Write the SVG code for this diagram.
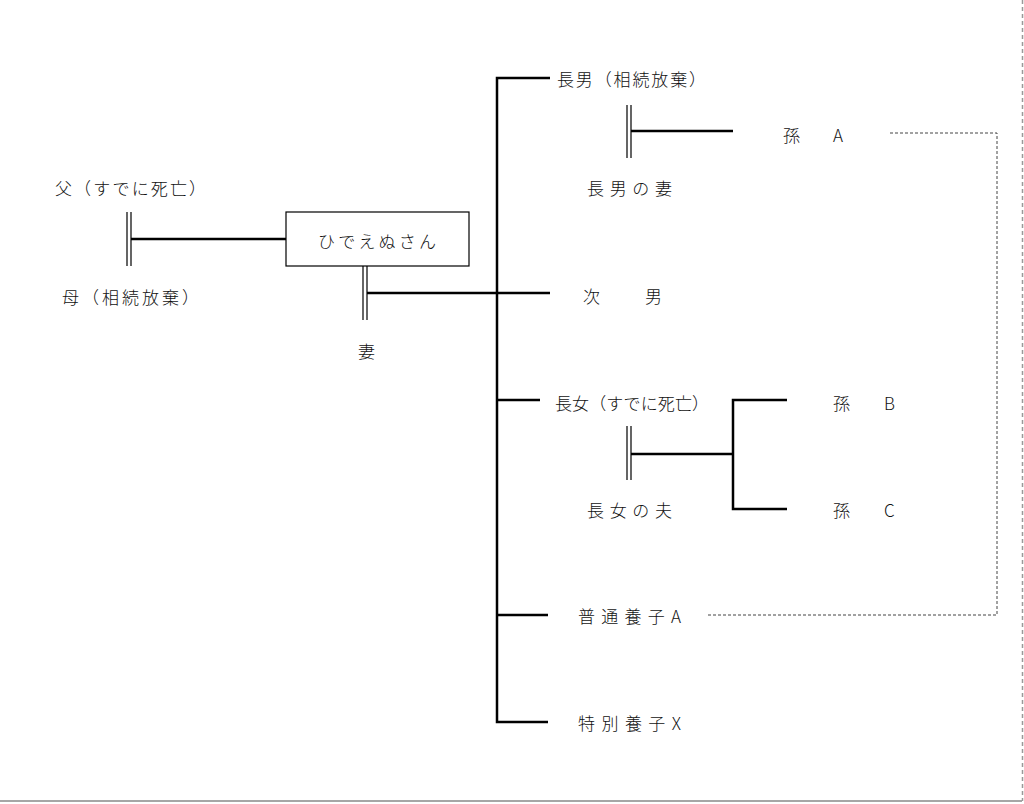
<svg xmlns="http://www.w3.org/2000/svg" width="1024" height="804" viewBox="0 0 1024 804">
<style>
.t{font-family:"Noto Sans CJK JP","Noto Sans",sans-serif;font-size:17px;font-weight:300;fill:#111;dominant-baseline:central}
.c{stroke:#000;stroke-width:2.5;fill:none}
.d{stroke:#000;stroke-width:1.2;fill:none}
.dash{stroke:#444;stroke-width:1;stroke-dasharray:3,2;fill:none}
</style>
<rect width="1024" height="804" fill="#fff"/>
<line x1="0" y1="801" x2="1022" y2="801" stroke="#888" stroke-width="1.5"/>
<line x1="1022.5" y1="0" x2="1022.5" y2="801" stroke="#999" stroke-width="1.5" stroke-dasharray="4,3"/>
<g id="connectors">
<path class="d" d="M127 212V266M131 212V266"/>
<path class="c" d="M131 239H286"/>
<path class="d" d="M363 266V320M367 266V320"/>
<path class="c" d="M367 293H550"/>
<path class="c" d="M550 78H497V722H548M497 400H540M497 615H548"/>
<path class="d" d="M627 105V158M631 105V158"/>
<path class="c" d="M631 131H733"/>
<path class="d" d="M627 426V480M631 426V480"/>
<path class="c" d="M631 454H733M787 400H733V509H787"/>
<path class="dash" d="M890 133H997V615H706"/>
</g>
<g id="father"><text class="t" x="55" y="187" textLength="151" lengthAdjust="spacing">父（すでに死亡）</text></g>
<g id="mother"><text class="t" x="62" y="296" textLength="137" lengthAdjust="spacing">母（相続放棄）</text></g>
<g id="hidenu"><rect x="286" y="212" width="183" height="54" fill="#fff" stroke="#000" stroke-width="1.2"/><text class="t" x="318" y="240" textLength="118" lengthAdjust="spacing">ひでえぬさん</text></g>
<g id="wife"><text class="t" x="366.5" y="350" text-anchor="middle">妻</text></g>
<g id="son1"><text class="t" x="557" y="78" textLength="149" lengthAdjust="spacing">長男（相続放棄）</text></g>
<g id="son1wife"><text class="t" x="587" y="187" textLength="85" lengthAdjust="spacing">長男の妻</text></g>
<g id="gcA"><text class="t" x="783" y="134">孫　<tspan x="833">A</tspan></text></g>
<g id="son2"><text class="t" x="583" y="295">次　<tspan x="645">男</tspan></text></g>
<g id="dau1"><text class="t" x="555" y="402" textLength="154" lengthAdjust="spacing">長女（すでに死亡）</text></g>
<g id="dau1husband"><text class="t" x="587" y="509" textLength="85" lengthAdjust="spacing">長女の夫</text></g>
<g id="gcB"><text class="t" x="833" y="402">孫　<tspan x="884">B</tspan></text></g>
<g id="gcC"><text class="t" x="833" y="509">孫　<tspan x="884">C</tspan></text></g>
<g id="adoptA"><text class="t" x="578" y="615" textLength="103" lengthAdjust="spacing">普通養子A</text></g>
<g id="adoptX"><text class="t" x="578" y="722" textLength="103" lengthAdjust="spacing">特別養子X</text></g>
</svg>
